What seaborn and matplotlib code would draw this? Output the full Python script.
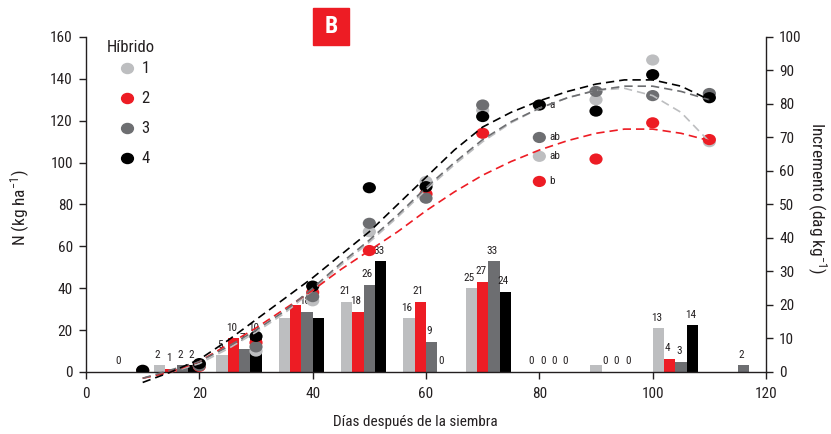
import numpy as np
import pandas as pd
import matplotlib
matplotlib.use("Agg")
import matplotlib.pyplot as plt
import seaborn as sns
from matplotlib.path import Path
from matplotlib.transforms import Affine2D
from matplotlib.patches import Rectangle
from matplotlib.lines import Line2D
from matplotlib import font_manager

# ---------------- data ----------------
hybrids = ["1", "2", "3", "4"]
colors = {"1": "#BDBEC0", "2": "#ED1C24", "3": "#6D6E71", "4": "#000000"}

# N accumulated (kg/ha) at each sampling date
sample_days = [10, 20, 30, 40, 50, 60, 70, 80, 90, 100, 110]
n_h1 = [0.0, 3.0, 10.0, 34.0, 67.0, 91.0, 125.0, 103.0, 130.0, 149.0, 110.0]
n_h2 = [0.5, 2.7, 14.0, 38.0, 58.0, 85.0, 114.0, 91.0, 101.7, 119.0, 111.0]
n_h3 = [0.5, 3.0, 12.0, 36.0, 71.0, 83.0, 127.5, 112.0, 134.0, 132.0, 133.0]
n_h4 = [0.8, 4.0, 17.0, 41.0, 88.0, 88.5, 122.0, 127.5, 124.6, 142.0, 131.0]

# significance letters at day 80
letter_day = 80
letters = {"1": "ab", "2": "b", "3": "ab", "4": "a"}

# fitted N uptake curves (kg/ha)
curve_days = [10, 15, 20, 25, 30, 35, 40, 45, 50, 55, 60,
              65, 70, 75, 80, 85, 90, 95, 100, 105, 110]
curve_h1 = [-3, 0, 4, 11, 19, 28, 39, 51, 62, 74, 87,
            99, 110, 119, 126, 131, 134.5, 135.5, 132, 124, 110]
curve_h2 = [-3, 0, 5, 13, 21, 30, 39, 49, 58, 67, 77,
            86, 94, 100.5, 106, 110.5, 114, 116, 116, 114, 110.5]
curve_h3 = [-3, 1, 5, 12, 20, 29, 40, 52, 63, 75, 88,
            100, 111, 119.5, 126, 131, 134.5, 136.5, 136.5, 134, 130]
curve_h4 = [-5, 0, 6, 15, 25, 35, 45, 56, 67, 80, 93,
            106, 117, 124, 129.5, 134, 137.5, 139.5, 139.5, 136.5, 130]

# N increment (dag/kg) between samplings
inc_days = [5, 16, 27, 38, 49, 60, 71, 82, 93, 104, 115]
inc_h1 = [np.nan, 2, 5, 16, 21, 16, 25, 0, 2, 13, np.nan]
inc_h2 = [np.nan, 1, 10, 20, 18, 21, 27, 0, 0, 4, np.nan]
inc_h3 = [0, 2, 7, 18, 26, 9, 33, 0, 0, 3, 2]
inc_h4 = [np.nan, 2, 10, 16, 33, 0, 24, 0, 0, 14, np.nan]
# bars printed without a value label: (hybrid, day)
unlabeled = {("1", 38), ("2", 38), ("4", 38), ("1", 93)}

n_vals = {"1": n_h1, "2": n_h2, "3": n_h3, "4": n_h4}
curves = {"1": curve_h1, "2": curve_h2, "3": curve_h3, "4": curve_h4}
incs = {"1": inc_h1, "2": inc_h2, "3": inc_h3, "4": inc_h4}

pts = pd.DataFrame([(d, v, h) for h in hybrids for d, v in zip(sample_days, n_vals[h])],
                   columns=["dia", "N", "hibrido"])
bars = pd.DataFrame([(d, v, h) for h in hybrids for d, v in zip(inc_days, incs[h])
                     if not np.isnan(v)],
                    columns=["dia", "inc", "hibrido"])

# ---------------- style ----------------
sns.set_style("ticks")
installed = {f.name for f in font_manager.fontManager.ttflist}
narrow = [f for f in ["Liberation Sans Narrow", "Roboto Condensed", "Roboto"] if f in installed]
base = narrow[0] if narrow else "DejaVu Sans"
plt.rcParams["font.family"] = [base, "DejaVu Sans"]
plt.rcParams["mathtext.fontset"] = "custom"
plt.rcParams["mathtext.rm"] = base
plt.rcParams["mathtext.default"] = "regular"
ink = "#231F20"

fig = plt.figure(figsize=(8.31, 4.34), dpi=100)
ax = fig.add_axes([0.1035, 0.1429, 0.8183, 0.7719])
ax2 = ax.twinx()

# increments as bars on the right axis
sns.barplot(data=bars, x="dia", y="inc", hue="hibrido", hue_order=hybrids,
            palette=colors, native_scale=True, width=8 / 11, dodge=True,
            saturation=1, errorbar=None, linewidth=0, legend=False, ax=ax2)
for h, cont in zip(hybrids, ax2.containers):
    for p in cont.patches:
        cx = p.get_x() + p.get_width() / 2
        hgt = p.get_height()
        if np.isnan(hgt):
            continue
        day = inc_days[int(np.argmin([abs(cx - d) for d in inc_days]))]
        if (h, day) in unlabeled:
            continue
        ax2.annotate(f"{hgt:.0f}", (cx, hgt), xytext=(-1.5, 4), textcoords="offset points",
                     ha="center", va="bottom", fontsize=8, color=ink)

ax2.set_ylim(0, 100)
ax2.set_yticks(range(0, 101, 10))
ax2.set_ylabel("")

# N points and fitted curves on the left axis
ellipse = Path.unit_circle().transformed(Affine2D().scale(1, 0.85))
sns.scatterplot(data=pts, x="dia", y="N", hue="hibrido", hue_order=hybrids,
                palette=colors, marker=ellipse, s=90, linewidth=0,
                legend=False, ax=ax, zorder=3)
for h in hybrids:
    sns.lineplot(x=curve_days, y=curves[h], color=colors[h], lw=1.2,
                 linestyle=(0, (5, 3)), ax=ax, zorder=4, clip_on=False)

for h in hybrids:
    yv = n_vals[h][sample_days.index(letter_day)]
    ax.text(letter_day + 1.7, yv, letters[h], fontsize=8, color=ink,
            ha="left", va="center")

ax.set_zorder(ax2.get_zorder() + 1)
ax.patch.set_visible(False)

ax.set_xlim(0, 120)
ax.set_ylim(0, 160)
ax.set_xticks(range(0, 121, 20))
ax.set_yticks(range(0, 161, 20))
ax.set_xlabel("")
ax.set_ylabel("")

for a in (ax, ax2):
    a.spines["top"].set_visible(False)
    for s in a.spines.values():
        s.set_color(ink)
        s.set_linewidth(1.0)
    a.tick_params(direction="out", length=5, width=1, labelsize=11,
                  colors=ink, pad=4.5)
ax.spines["right"].set_visible(False)
ax2.spines["left"].set_visible(False)
ax2.spines["bottom"].set_visible(False)
ax.tick_params(axis="x", pad=6)

# axis titles
fig.text(20 / 831, 1 - 208 / 434, "N (kg ha$^{-1}$)", rotation=90,
         ha="center", va="center", fontsize=12.5, color=ink)
fig.text(817 / 831, 1 - 198 / 434, "Incremento (dag kg$^{-1}$)", rotation=-90,
         ha="center", va="center", fontsize=12.5, color=ink)
fig.text(415 / 831, 1 - 422 / 434, "Días después de la siembra",
         ha="center", va="center", fontsize=11, color=ink)

# legend: title placed on its own, entries below
fig.text(107 / 831, 1 - 48 / 434, "Híbrido", ha="left", va="center",
         fontsize=12, color=ink)
handles = [Line2D([], [], marker=ellipse, ls="", color=colors[h], markersize=8.5)
           for h in hybrids]
leg = ax.legend(handles, hybrids, loc="upper left",
                bbox_to_anchor=(0.013, 0.962), frameon=False, fontsize=12,
                labelspacing=0.9, handlelength=2.4, handletextpad=-0.3,
                borderpad=0.2)
for t in leg.get_texts():
    t.set_color(ink)

# panel letter
fig.patches.append(Rectangle((313 / 831, 1 - 45 / 434), 36 / 831, 37 / 434,
                             transform=fig.transFigure, color="#ED1C24", zorder=5))
fig.text(331 / 831, 1 - 26.5 / 434, "B", color="white", fontweight="bold",
         fontsize=17, ha="center", va="center", zorder=6)

fig.savefig("out.png", dpi=100)
